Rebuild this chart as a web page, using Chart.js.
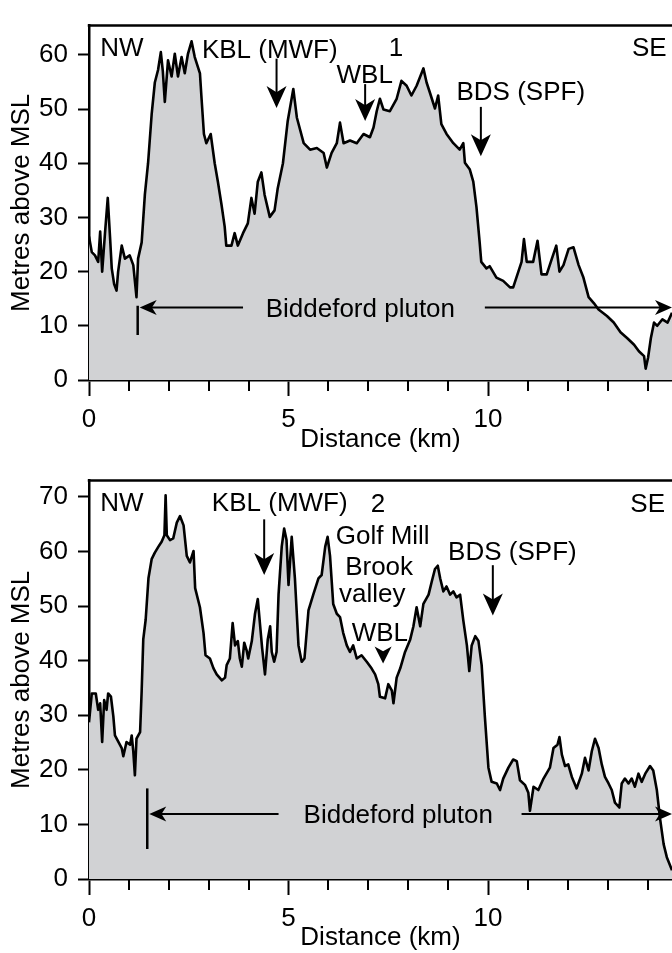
<!DOCTYPE html>
<html>
<head>
<meta charset="utf-8">
<title>Topographic profiles across the Biddeford pluton</title>
<script src="https://cdn.jsdelivr.net/npm/chart.js@4.4.1/dist/chart.umd.min.js"></script>
<style>
  html, body { margin: 0; padding: 0; background: #fff; }
  .panel { position: absolute; left: 0; width: 672px; }
  #wrap1 { top: 0; height: 455px; }
  #wrap2 { top: 455px; height: 498px; }
</style>
</head>
<body>
<div class="panel" id="wrap1"><canvas id="profile1"></canvas></div>
<div class="panel" id="wrap2"><canvas id="profile2"></canvas></div>
<script>
'use strict';

// profile 1 : distance (km) / elevation (m)
const profile1Km = [0,0.07,0.15,0.23,0.28,0.33,0.4,0.47,0.53,0.57,0.63,0.69,0.73,0.82,0.9,1.02,1.11,1.19,1.23,1.32,
  1.4,1.48,1.57,1.65,1.73,1.8,1.85,1.9,1.98,2.07,2.15,2.23,2.32,2.4,2.48,2.57,2.65,2.78,2.82,2.88,2.94,3.05,3.15,3.23,
  3.32,3.4,3.44,3.57,3.65,3.73,3.86,3.98,4.07,4.15,4.23,4.32,4.4,4.53,4.65,4.73,4.86,4.98,5.12,5.21,5.38,5.54,5.71,
  5.88,5.96,6.08,6.21,6.29,6.38,6.54,6.71,6.88,7.04,7.13,7.21,7.29,7.38,7.54,7.71,7.83,7.96,8.08,8.21,8.38,8.46,8.54,
  8.67,8.75,8.83,8.96,9.13,9.29,9.38,9.42,9.54,9.63,9.71,9.79,9.83,9.96,10.04,10.21,10.38,10.55,10.63,10.76,10.84,
  10.9,10.97,11.13,11.24,11.34,11.47,11.6,11.71,11.79,11.89,12.02,12.14,12.27,12.39,12.52,12.65,12.77,12.98,13.15,
  13.32,13.49,13.66,13.78,13.91,13.95,14.01,14.08,14.16,14.24,14.37,14.5,14.61];
const profile1M = [26.5,23.6,23,21.8,27.4,20,27,33.6,26,20.6,17.7,16.5,20,24.8,22.4,23,21.2,15.3,22.4,25.4,
  34.2,40,49,54.9,57.2,60.5,57,51.3,59,56,60.2,56,59.6,56.6,60.2,62.5,59.6,56.6,52,45.4,43.7,45.4,40,36.6,
  32.4,28.3,24.8,24.8,27.1,24.8,27.1,28.9,33.6,30.7,36.6,38.3,34.2,30.1,31.3,35.4,40,47.8,53.7,48.4,43.7,42.5,42.8,
  41.9,39.2,41.9,43.7,47.5,43.7,44.2,43.7,45.4,44.8,46.6,49.6,51.9,49.9,49.6,51.9,55.2,54.3,52.5,54.3,57.5,54.9,53.1,
  50.1,52.5,47.2,45.4,43.7,42.5,43.7,40.1,38.9,36.6,31.9,25.4,21.8,20.6,21,18.9,18.3,17.1,17.1,20,21.8,
  26,21.8,21.8,25.7,19.5,19.5,22.4,24.8,20,21.2,24.2,24.5,21.2,18.9,15.3,14.2,13,11.8,10.6,
  8.8,7.7,6.5,5.3,4.4,2.1,4.1,7.7,10.6,10,11.2,10.6,12.4];

// profile 2 : distance (km) / elevation (m)
const profile2Km = [0,0.03,0.07,0.17,0.23,0.28,0.33,0.38,0.44,0.48,0.55,0.61,0.65,0.74,0.82,0.86,0.94,1.03,1.07,1.11,
  1.15,1.19,1.28,1.32,1.36,1.42,1.49,1.57,1.65,1.74,1.82,1.89,1.92,1.95,2.03,2.11,2.2,2.28,2.37,2.45,2.53,2.62,2.66,
  2.78,2.87,2.92,3.03,3.12,3.2,3.33,3.41,3.45,3.53,3.6,3.66,3.73,3.78,3.83,3.89,3.95,3.99,4.08,4.16,4.23,4.29,4.34,
  4.41,4.48,4.54,4.58,4.64,4.7,4.75,4.83,4.89,4.95,5.0,5.08,5.16,5.25,5.33,5.4,5.5,5.62,5.75,5.83,5.92,5.98,6.04,
  6.12,6.21,6.29,6.37,6.46,6.54,6.62,6.71,6.83,6.96,7.08,7.17,7.25,7.29,7.42,7.5,7.59,7.63,7.71,7.8,7.92,8.05,8.13,
  8.21,8.3,8.38,8.51,8.59,8.67,8.74,8.8,8.88,8.96,9.05,9.13,9.21,9.3,9.38,9.47,9.53,9.59,9.68,9.76,9.84,9.92,10.01,
  10.09,10.22,10.3,10.38,10.51,10.63,10.72,10.8,10.93,11.01,11.05,11.14,11.26,11.39,11.55,11.64,11.74,11.79,11.85,
  11.93,12.01,12.1,12.22,12.35,12.43,12.52,12.6,12.68,12.77,12.85,12.93,13.02,13.1,13.18,13.29,13.35,13.43,13.52,
  13.6,13.68,13.77,13.85,13.94,14.06,14.14,14.23,14.31,14.4,14.48,14.61];
const profile2M = [28.7,31,34,34,31,32.2,25.1,32.8,31,34,33.4,29.8,26.3,25.1,24,22.5,25.1,24.6,26.3,23.4,
  19,25.7,26.9,34.5,43.9,47.5,55.1,58.6,59.8,60.9,61.8,63,70.3,63,62.1,62.4,65.3,66.5,64.8,59.2,58,60.1,53.3,
  49.8,45.1,41,40.4,38.6,37.5,36.4,36.9,39.2,40.4,46.9,42.8,43.6,40.4,38.9,43.3,41.9,40.4,43.6,48.6,51.3,46.3,42.2,
  37.5,43.9,46.3,41.6,39.8,41.6,52.1,60.9,64.2,62.1,53.9,62.7,55.1,42.8,39.8,40.4,49.2,52.1,55.1,55.7,60.9,62.7,59.2,
  50.4,48.6,48,45.1,42.8,41.6,42.8,40.4,41,39.8,38.6,37.5,35.7,33.4,33.1,35.7,34.5,32.2,36.9,38.6,41.6,43.9,46.3,
  49.8,46.3,50.4,52.1,54.5,56.8,57.4,55.1,52.7,53.6,52.1,52.7,51.6,52.1,47.4,42.8,38.1,42.8,44.5,43.6,39.2,29.8,20.4,
  17.8,17.5,16.3,18.4,20.4,21.9,21.6,18.1,17.2,15.8,12.5,16.9,16.3,18.4,20.4,24,24.6,26,22.8,
  20.7,21,18.7,16.6,19.3,22.2,19.9,23.4,25.7,24,21,18.7,17.5,16.3,14,13.1,17.5,18.4,17.5,
  18.4,16.9,19.3,17.8,19.3,20.7,19.9,16.3,11.1,6.4,4,1.6];

// axis ranges
const xMax = 14.61;
const y1Max = 65.4;
const y2Max = 73;

// annotations (data coordinates)
const labels1 = [
  { text: 'NW', x: 0.28, y: 61.5, align: 'left' },
  { text: 'KBL (MWF)', x: 4.53, y: 61.2 },
  { text: '1', x: 7.69, y: 61.5 },
  { text: 'WBL', x: 6.91, y: 56.5 },
  { text: 'BDS (SPF)', x: 10.82, y: 53.3 },
  { text: 'SE', x: 14.04, y: 61.5 },
  { text: 'Biddeford pluton', x: 6.80, y: 13.4 }
];
const arrows1 = [
  { x: 4.7, from: 59.3, to: 50.2 },
  { x: 6.92, from: 54.6, to: 47.8 },
  { x: 9.82, from: 50.4, to: 41.3 }
];
const pluton1 = { bar: 1.22, barTop: 13.7, barBottom: 8.3, y: 13.4, leftEnd: 3.86, rightStart: 9.92 };

const labels2 = [
  { text: 'NW', x: 0.28, y: 69.2, align: 'left' },
  { text: 'KBL (MWF)', x: 4.78, y: 69.1 },
  { text: '2', x: 7.24, y: 69.0 },
  { text: 'Golf Mill', x: 7.36, y: 63.0 },
  { text: 'Brook', x: 7.27, y: 57.4 },
  { text: 'valley', x: 7.1, y: 52.4 },
  { text: 'WBL', x: 7.29, y: 45.4 },
  { text: 'BDS (SPF)', x: 10.61, y: 60.2 },
  { text: 'SE', x: 14.0, y: 69.0 },
  { text: 'Biddeford pluton', x: 7.75, y: 11.9 }
];
const arrows2 = [
  { x: 4.39, from: 65.9, to: 55.7 },
  { x: 10.12, from: 57.5, to: 48.3 },
  { x: 7.37, from: null, to: 39.5 }   // WBL : head only
];
const pluton2 = { bar: 1.46, barTop: 16.6, barBottom: 5.5, y: 11.9, leftEnd: 4.75, rightStart: 10.84 };

const FONT = '"Liberation Sans", Arial, Helvetica, sans-serif';
const FSIZE = 26;

// filled barbed arrow head, tip at (tx,ty), pointing along (dx,dy)
function arrowHead(ctx, tx, ty, dx, dy, len, half) {
  const px = -dy, py = dx;
  ctx.beginPath();
  ctx.moveTo(tx, ty);
  ctx.lineTo(tx - dx * len + px * half, ty - dy * len + py * half);
  ctx.lineTo(tx - dx * len * 0.72, ty - dy * len * 0.72);
  ctx.lineTo(tx - dx * len - px * half, ty - dy * len - py * half);
  ctx.closePath();
  ctx.fill();
}

const annotate = {
  id: 'annotate',
  afterDatasetsDraw(chart, args, opts) {
    const { ctx, chartArea } = chart;
    const x = chart.scales.x, y = chart.scales.y;
    ctx.save();
    ctx.strokeStyle = '#000';
    ctx.fillStyle = '#000';

    // top frame
    ctx.lineWidth = 2.5;
    ctx.beginPath();
    ctx.moveTo(chartArea.left - 1.25, chartArea.top);
    ctx.lineTo(chartArea.right, chartArea.top);
    ctx.stroke();

    // minor km ticks
    ctx.lineWidth = 2;
    x.ticks.forEach(t => {
      if (t.value % 5 === 0) return;
      const px = Math.round(x.getPixelForValue(t.value));
      ctx.beginPath();
      ctx.moveTo(px, chartArea.bottom);
      ctx.lineTo(px, chartArea.bottom + 11);
      ctx.stroke();
    });

    // labels
    ctx.font = FSIZE + 'px ' + FONT;
    ctx.textBaseline = 'alphabetic';
    opts.labels.forEach(l => {
      ctx.textAlign = l.align || 'center';
      ctx.fillText(l.text, x.getPixelForValue(l.x), y.getPixelForValue(l.y) + FSIZE * 0.358);
    });

    // down arrows
    opts.arrows.forEach(a => {
      const px = x.getPixelForValue(a.x);
      const tip = y.getPixelForValue(a.to);
      if (a.from === null) {
        arrowHead(ctx, px, tip, 0, 1, 17, 8.5);
        return;
      }
      ctx.lineWidth = 2;
      ctx.beginPath();
      ctx.moveTo(px, y.getPixelForValue(a.from));
      ctx.lineTo(px, tip - 14);
      ctx.stroke();
      arrowHead(ctx, px, tip, 0, 1, 22, 10);
    });

    // pluton extent
    const p = opts.pluton;
    const bx = x.getPixelForValue(p.bar);
    const py = y.getPixelForValue(p.y);
    ctx.lineWidth = 2.5;
    ctx.beginPath();
    ctx.moveTo(bx, y.getPixelForValue(p.barTop));
    ctx.lineTo(bx, y.getPixelForValue(p.barBottom));
    ctx.stroke();
    ctx.lineWidth = 2;
    ctx.beginPath();
    ctx.moveTo(bx + 10, py);
    ctx.lineTo(x.getPixelForValue(p.leftEnd), py);
    ctx.moveTo(x.getPixelForValue(p.rightStart), py);
    ctx.lineTo(chartArea.right - 10, py);
    ctx.stroke();
    arrowHead(ctx, bx + 2, py, -1, 0, 17, 7.5);
    arrowHead(ctx, chartArea.right, py, 1, 0, 17, 7.5);

    ctx.restore();
  }
};

function makeProfile(canvasId, km, elev, yMax, xAxisHeight, labels, arrows, pluton) {
  return new Chart(document.getElementById(canvasId), {
    type: 'line',
    data: {
      datasets: [{
        data: km.map((d, i) => ({ x: d, y: elev[i] })),
        borderColor: '#000',
        borderWidth: 2.6,
        borderJoinStyle: 'round',
        backgroundColor: '#d1d2d4',
        fill: 'origin',
        pointRadius: 0,
        tension: 0
      }]
    },
    options: {
      responsive: true,
      maintainAspectRatio: false,
      animation: false,
      layout: { padding: { top: 10, left: 0, right: 0, bottom: 0 } },
      plugins: {
        legend: { display: false },
        tooltip: { enabled: false },
        annotate: { labels: labels, arrows: arrows, pluton: pluton }
      },
      scales: {
        x: {
          type: 'linear',
          min: 0,
          max: xMax,
          border: { color: '#000', width: 2.5 },
          grid: {
            drawOnChartArea: false,
            tickLength: 16,
            tickWidth: 2,
            tickColor: c => (c.tick && c.tick.value % 5 === 0) ? '#000' : 'rgba(0,0,0,0)'
          },
          ticks: {
            stepSize: 1,
            autoSkip: false,
            maxRotation: 0,
            includeBounds: false,
            padding: 8,
            color: '#000',
            font: { family: FONT, size: FSIZE },
            callback: v => (v % 5 === 0 ? v : '')
          },
          title: {
            display: true,
            text: 'Distance (km)',
            color: '#000',
            font: { family: FONT, size: FSIZE },
            padding: { top: 0, bottom: 0 }
          },
          afterFit: s => { s.height = xAxisHeight; }
        },
        y: {
          min: 0,
          max: yMax,
          border: { color: '#000', width: 2.5 },
          grid: { drawOnChartArea: false, tickLength: 11, tickWidth: 2, tickColor: '#000' },
          ticks: {
            stepSize: 10,
            includeBounds: false,
            padding: 10,
            color: '#000',
            font: { family: FONT, size: FSIZE }
          },
          title: {
            display: true,
            text: 'Metres above MSL',
            color: '#000',
            font: { family: FONT, size: FSIZE },
            padding: { top: 6, bottom: 0 }
          },
          afterFit: s => { s.width = 89; }
        }
      }
    },
    plugins: [annotate]
  });
}

makeProfile('profile1', profile1Km, profile1M, y1Max, 75, labels1, arrows1, pluton1);
makeProfile('profile2', profile2Km, profile2M, y2Max, 74, labels2, arrows2, pluton2);
</script>
</body>
</html>
